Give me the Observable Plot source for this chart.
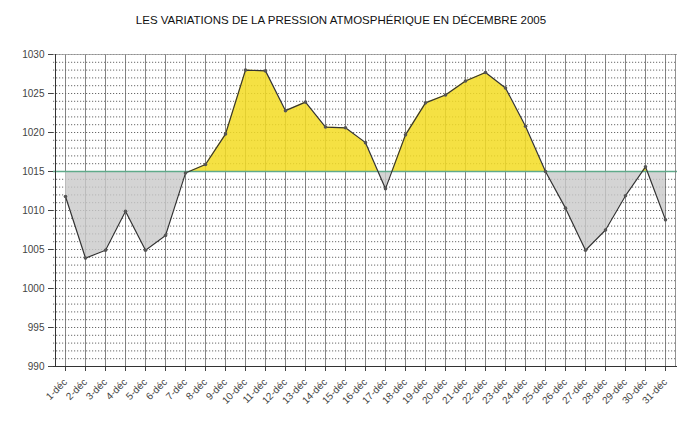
<!DOCTYPE html>
<html>
<head>
<meta charset="utf-8">
<script src="https://cdn.jsdelivr.net/npm/d3@7"></script>
<script src="https://cdn.jsdelivr.net/npm/@observablehq/plot@0.6"></script>
<style>
  body { margin: 0; background: #fff; font-family: "Liberation Sans", Arial, sans-serif; }
  #title { height: 30px; line-height: 40px; text-align: center; font-size: 11.5px; color: #111; padding-right: 8px; }
</style>
</head>
<body>
<div id="title">LES VARIATIONS DE LA PRESSION ATMOSPHÉRIQUE EN DÉCEMBRE 2005</div>
<div id="chart"></div>
<script>
const days = ["1-déc","2-déc","3-déc","4-déc","5-déc","6-déc","7-déc","8-déc","9-déc","10-déc",
  "11-déc","12-déc","13-déc","14-déc","15-déc","16-déc","17-déc","18-déc","19-déc","20-déc",
  "21-déc","22-déc","23-déc","24-déc","25-déc","26-déc","27-déc","28-déc","29-déc","30-déc","31-déc"];
const pressure = [1011.8, 1003.9, 1004.9, 1009.9, 1004.9, 1006.8, 1014.8, 1015.9, 1019.8, 1028.0,
  1027.9, 1022.8, 1023.9, 1020.7, 1020.6, 1018.7, 1012.8, 1019.7, 1023.8, 1024.8,
  1026.6, 1027.7, 1025.7, 1020.8, 1015.0, 1010.3, 1004.9, 1007.5, 1011.9, 1015.6, 1008.8];
const yTicks = [990, 995, 1000, 1005, 1010, 1015, 1020, 1025, 1030];
const minorY = d3.range(990, 1031);
const reference = 1015;

const data = days.map((d, i) => ({day: d, p: pressure[i]}));

const W = 690, H = 393, mt = 24, mb = 57, ml = 53, mr = 13;

const chart = Plot.plot({
  width: W, height: H,
  marginTop: mt, marginBottom: mb, marginLeft: ml, marginRight: mr,
  style: {fontFamily: "Liberation Sans, Arial, sans-serif", fontSize: "10px", color: "#444", background: "white"},
  x: {type: "point", domain: days, padding: 0.5, label: null, tickRotate: -45, tickSize: 5, tickPadding: 9},
  y: {domain: [990, 1030], ticks: yTicks, tickFormat: d => String(d), label: null, tickSize: 5, tickPadding: 4},
  marks: [
    Plot.ruleY(minorY, {stroke: "#444", strokeWidth: 0.8, strokeDasharray: "1.2,1.8"}),
    Plot.ruleX(days, {stroke: "#666", strokeWidth: 0.8}),
    Plot.areaY(data, {x: "day", y1: reference, y2: "p", fill: "#f3dc22", fillOpacity: 0.85, curve: "linear"}),
    Plot.areaY(data, {x: "day", y1: reference, y2: "p", fill: "#c9c9c9", fillOpacity: 0.8, curve: "linear"}),
    Plot.ruleY([reference], {stroke: "#5faa8a", strokeWidth: 1.6}),
    Plot.ruleY([1030], {stroke: "#999", strokeWidth: 0.8}),
    Plot.ruleX([days[days.length - 1]], {dx: 10, stroke: "#777", strokeWidth: 0.8}),
    Plot.ruleX([days[0]], {dx: -10, stroke: "#333", strokeWidth: 1}),
    Plot.ruleY([990], {stroke: "#333", strokeWidth: 1}),
    Plot.line(data, {x: "day", y: "p", stroke: "#333", strokeWidth: 1.2}),
    Plot.dot(data, {x: "day", y: "p", r: 1.8, fill: "#555", stroke: "none"})
  ]
});

// clip the two fills: yellow above the reference line, grey below it
let y0;
try { y0 = chart.scale("y").apply(reference); } catch (e) { y0 = mt + (1030 - reference) / 40 * (H - mt - mb); }
const svg = d3.select(chart);
const defs = svg.insert("defs", ":first-child");
defs.append("clipPath").attr("id", "clipAbove").append("rect")
  .attr("x", 0).attr("y", 0).attr("width", W).attr("height", y0);
defs.append("clipPath").attr("id", "clipBelow").append("rect")
  .attr("x", 0).attr("y", y0).attr("width", W).attr("height", H - y0);
const areas = svg.selectAll('g[aria-label="area"]').nodes();
if (areas[0]) areas[0].setAttribute("clip-path", "url(#clipAbove)");
if (areas[1]) areas[1].setAttribute("clip-path", "url(#clipBelow)");

document.getElementById("chart").appendChild(chart);
</script>
</body>
</html>
